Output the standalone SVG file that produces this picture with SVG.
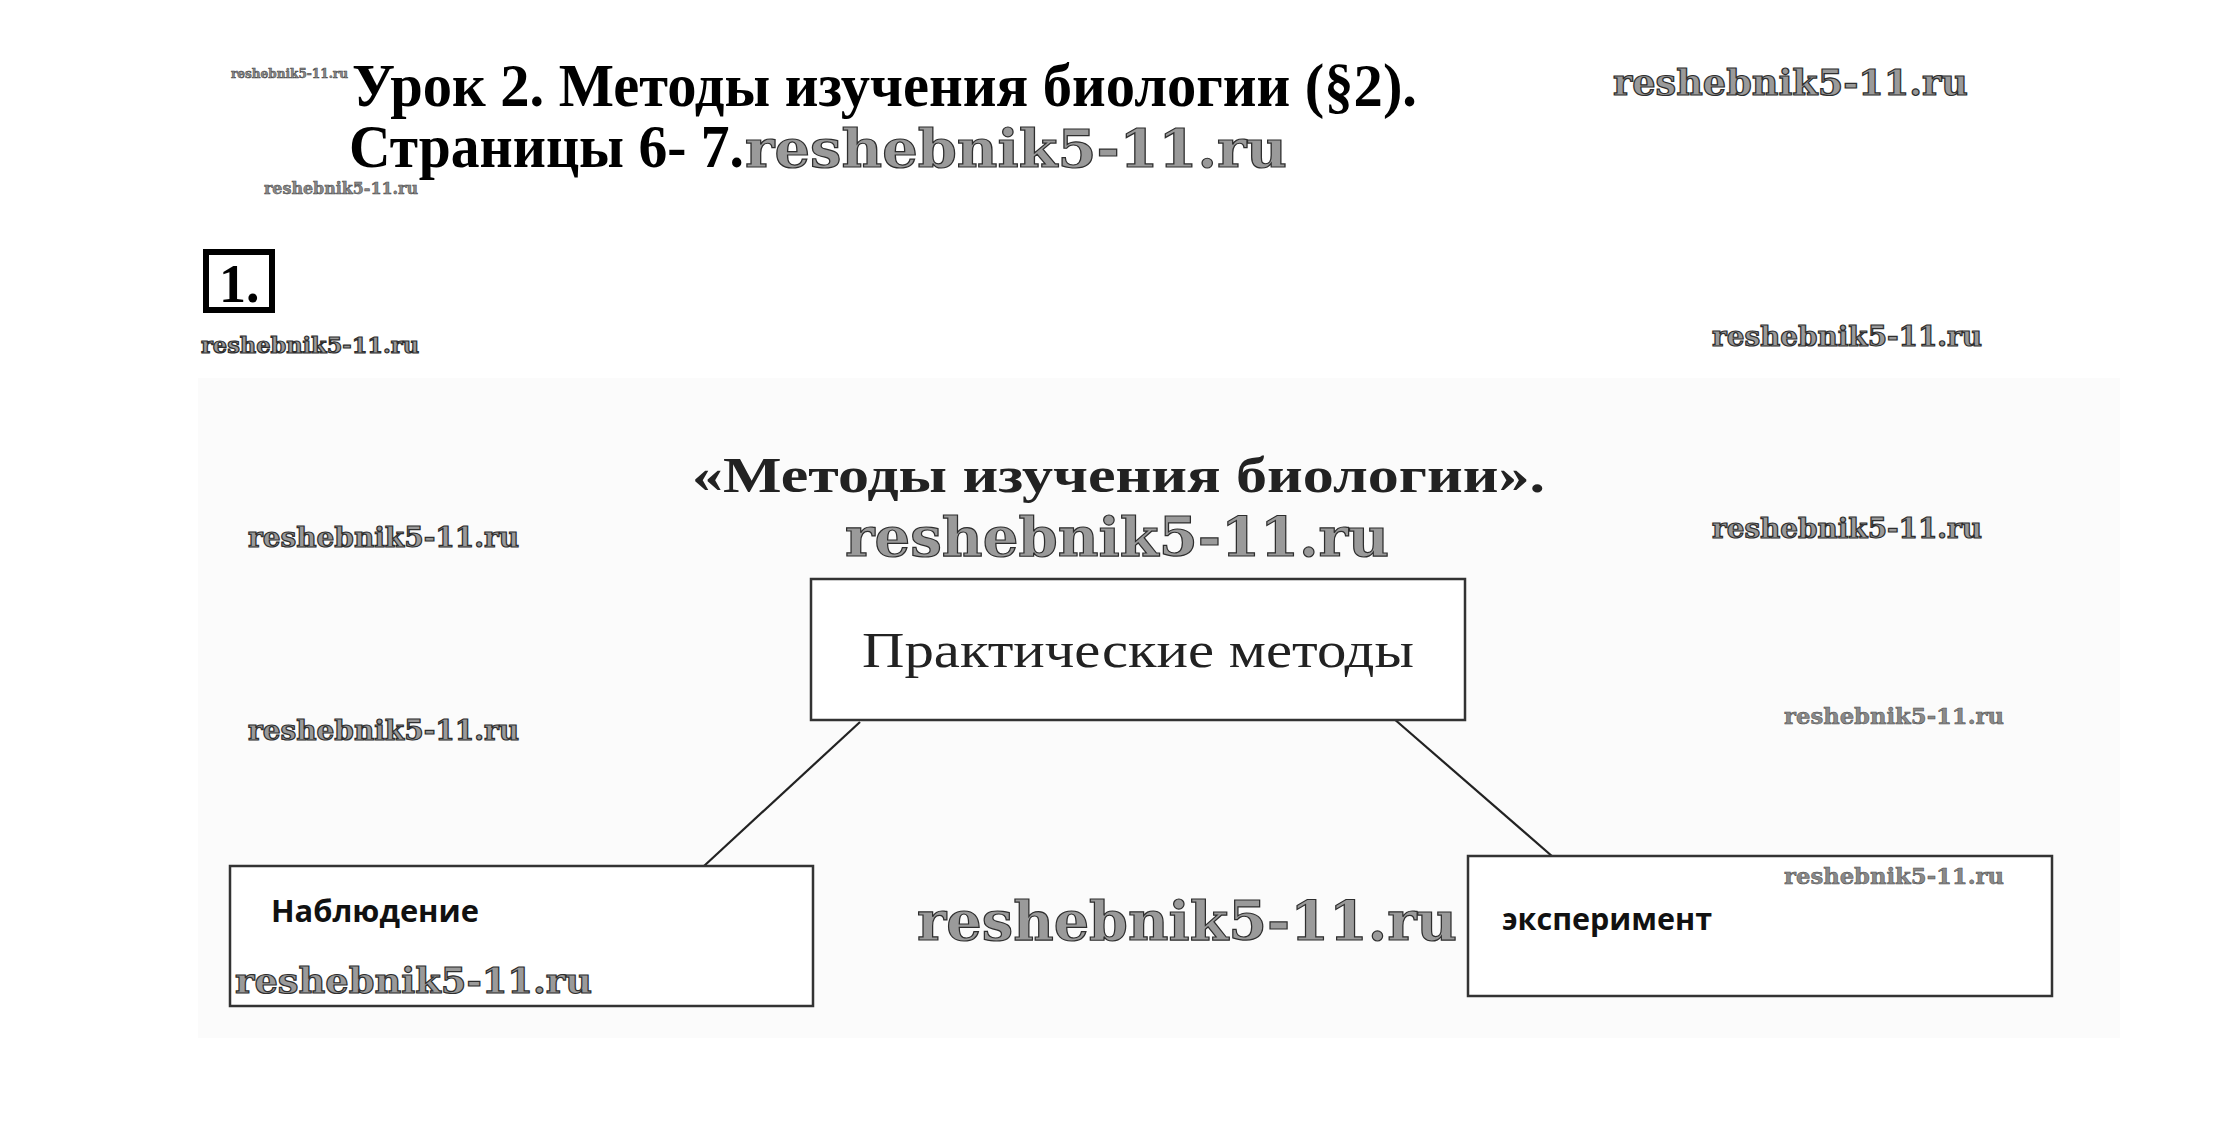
<svg xmlns="http://www.w3.org/2000/svg" width="2222" height="1131" viewBox="0 0 2222 1131">
<style>
.wm{font-family:"DejaVu Serif",serif;font-weight:bold;fill:#9a9a9a;stroke:#2e2e2e;stroke-width:1.2}
.wms{font-family:"DejaVu Serif",serif;font-weight:bold;fill:#8a8a8a;stroke:#444;stroke-width:0.5}
.title{font-family:"Liberation Serif",serif;font-weight:bold;fill:#000}
.box{fill:#fff;stroke:#333;stroke-width:2.5}
.lbl{font-family:"Open Sans","DejaVu Sans",sans-serif;font-weight:bold;fill:#111;font-size:31px}
.ser{font-family:"Liberation Serif",serif;fill:#222}
.conn{stroke:#222;stroke-width:2.2;fill:none}
</style>
<rect width="2222" height="1131" fill="#fff"/>
<rect x="198" y="378" width="1922" height="660" fill="#fbfbfb"/>
<g id="header">
<text class="wms" x="231" y="78" font-size="12" textLength="117" lengthAdjust="spacingAndGlyphs">reshebnik5-11.ru</text>
<text class="title" x="352" y="106" font-size="62" textLength="1065" lengthAdjust="spacingAndGlyphs">Урок 2. Методы изучения биологии (§2).</text>
<text class="title" x="349" y="167" font-size="62" textLength="395" lengthAdjust="spacingAndGlyphs">Страницы 6- 7.</text>
<text class="wm" x="745" y="167" font-size="52" textLength="542" lengthAdjust="spacingAndGlyphs">reshebnik5-11.ru</text>
<text class="wms" x="264" y="194" font-size="16" textLength="154" lengthAdjust="spacingAndGlyphs">reshebnik5-11.ru</text>
<text class="wm" x="1613" y="95" font-size="35" textLength="355" lengthAdjust="spacingAndGlyphs">reshebnik5-11.ru</text>
</g>
<g id="task-number">
<rect x="206" y="252" width="66" height="58" fill="#fff" stroke="#000" stroke-width="6"/>
<text x="219" y="302" font-family="Liberation Serif,serif" font-weight="bold" font-size="54" fill="#000">1.</text>
<text class="wm" x="201" y="353" font-size="22" textLength="218" lengthAdjust="spacingAndGlyphs" stroke-width="0.7">reshebnik5-11.ru</text>
<text class="wm" x="1712" y="346" font-size="27" textLength="270" lengthAdjust="spacingAndGlyphs" stroke-width="0.8">reshebnik5-11.ru</text>
</g>
<g id="heading">
<text class="ser" x="692" y="492" font-size="50" font-weight="bold" textLength="853" lengthAdjust="spacingAndGlyphs">«Методы изучения биологии».</text>
<text class="wm" x="845" y="556" font-size="54" textLength="544" lengthAdjust="spacingAndGlyphs">reshebnik5-11.ru</text>
<text class="wm" x="248" y="547" font-size="27" textLength="271" lengthAdjust="spacingAndGlyphs" stroke-width="0.8">reshebnik5-11.ru</text>
<text class="wm" x="1712" y="538" font-size="27" textLength="270" lengthAdjust="spacingAndGlyphs" stroke-width="0.8">reshebnik5-11.ru</text>
<text class="wm" x="248" y="740" font-size="27" textLength="271" lengthAdjust="spacingAndGlyphs" stroke-width="0.8">reshebnik5-11.ru</text>
<text class="wms" x="1784" y="724" font-size="22" textLength="220" lengthAdjust="spacingAndGlyphs">reshebnik5-11.ru</text>
<text class="wm" x="917" y="940" font-size="54" textLength="540" lengthAdjust="spacingAndGlyphs">reshebnik5-11.ru</text>
</g>
<g id="connectors">
<line class="conn" x1="860" y1="722" x2="704" y2="866"/>
<line class="conn" x1="1393" y1="718" x2="1553" y2="857"/>
</g>
<g id="node-practical">
<rect class="box" x="811" y="579" width="654" height="141"/>
<text class="ser" x="862" y="667" font-size="50" textLength="552" lengthAdjust="spacingAndGlyphs">Практические методы</text>
</g>
<g id="node-observation">
<rect class="box" x="230" y="866" width="583" height="140"/>
<text class="lbl" x="271" y="922" textLength="208" lengthAdjust="spacingAndGlyphs">Наблюдение</text>
<text class="wm" x="235" y="993" font-size="36" textLength="357" lengthAdjust="spacingAndGlyphs">reshebnik5-11.ru</text>
</g>
<g id="node-experiment">
<rect class="box" x="1468" y="856" width="584" height="140"/>
<text class="lbl" x="1502" y="930" textLength="210" lengthAdjust="spacingAndGlyphs">эксперимент</text>
<text class="wms" x="1784" y="884" font-size="22" textLength="220" lengthAdjust="spacingAndGlyphs">reshebnik5-11.ru</text>
</g>
</svg>
